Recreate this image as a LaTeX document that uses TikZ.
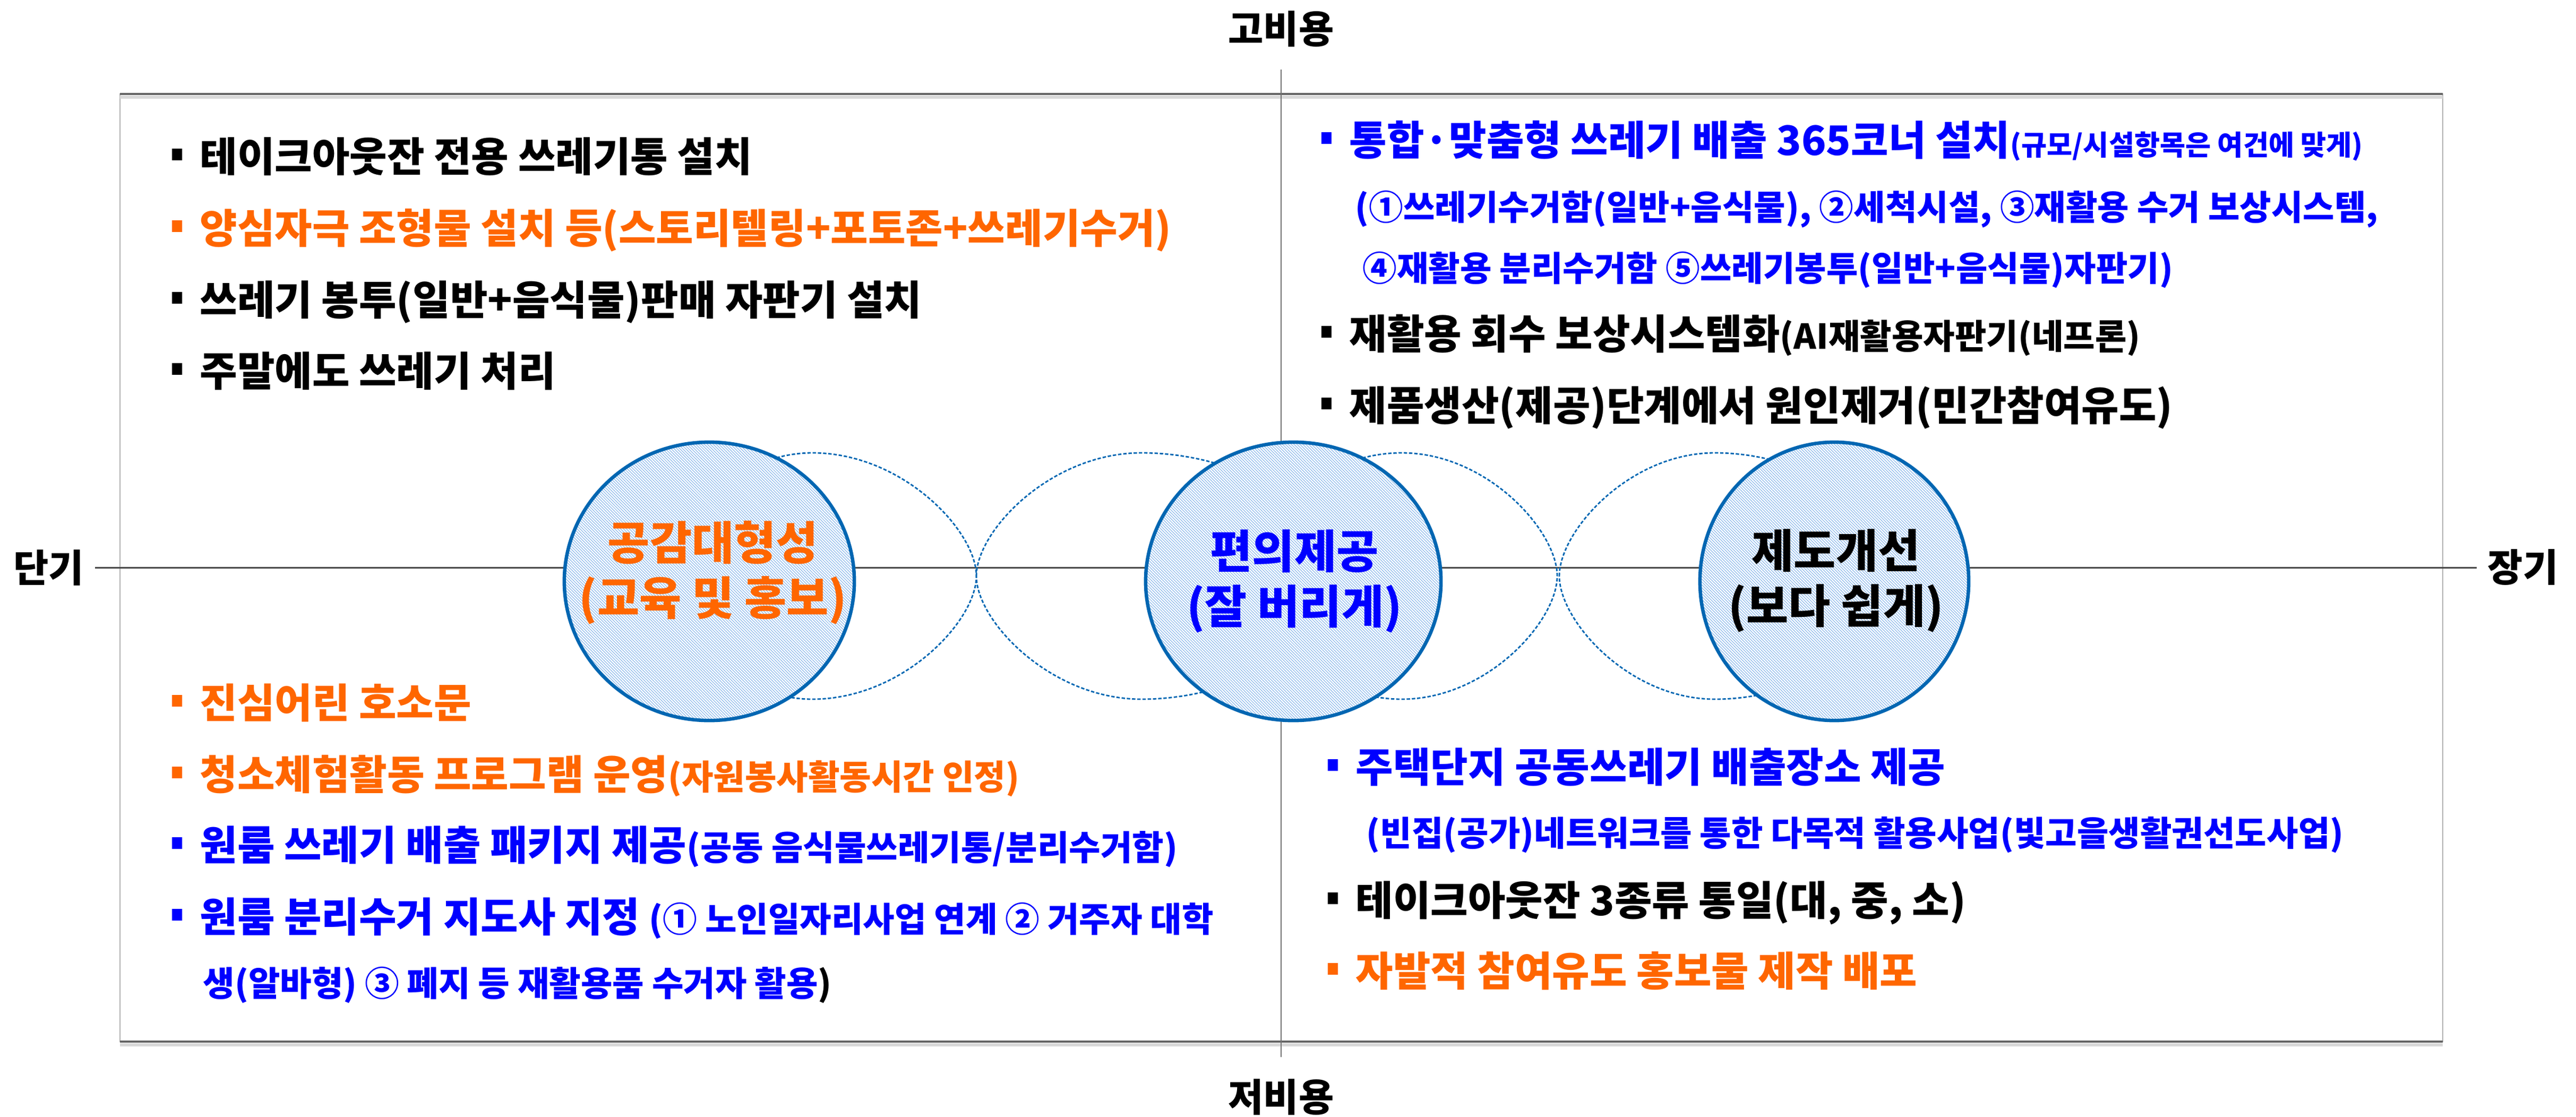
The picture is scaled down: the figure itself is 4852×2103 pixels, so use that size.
\documentclass[tikz,border=0pt]{standalone}
\usepackage{fontspec}
\setmainfont{Noto Sans CJK KR}
\usetikzlibrary{shapes.geometric,patterns.meta}
\definecolor{orng}{RGB}{255,102,0}
\definecolor{pblue}{RGB}{0,0,255}
\definecolor{ring}{RGB}{0,102,178}
\definecolor{hatch}{RGB}{140,185,235}
\definecolor{axisgray}{RGB}{70,70,70}
\newcommand{\bul}{\rule[5.9pt]{5.6pt}{6.3pt}\hspace{9.5pt}}
\newcommand{\smtxt}{\fontsize{18.4}{21}\selectfont}
\newcommand{\tinytxt}{\fontsize{14.9}{17}\selectfont}
\tikzset{
  bubble/.style={ellipse, draw=ring, line width=1.85pt, preaction={fill=white},
    pattern={Lines[angle=-45,distance=1.1pt,line width=0.35pt]}, pattern color=hatch},
  halo/.style={draw=ring, line width=0.8pt, dash pattern=on 1.8pt off 1pt},
  bubtext/.style={font=\fontsize{24.5}{29.5}\selectfont\bfseries, align=center},
  item/.style={anchor=base west, font=\fontsize{21.8}{25}\selectfont\bfseries},
  subitem/.style={anchor=base west, font=\smtxt\bfseries},
  axlabel/.style={font=\fontsize{20.5}{24}\selectfont\bfseries, outer sep=12pt},
  axis/.style={draw=axisgray, line width=0.85pt},
  frame/.style={draw=gray!60, line width=0.6pt}
}
\begin{document}
\begin{tikzpicture}[x=0.01cm,y=-0.01cm]
\tikzstyle{every node}+=[inner sep=0pt]
\useasboundingbox (0,0) rectangle (4852,2103);
\draw[frame] (226,177) rectangle (4601,1962);
\draw[gray!30, line width=1.5pt] (226,183) -- (4601,183);
\draw[gray!30, line width=1.5pt] (226,1968) -- (4601,1968);
\draw[black!60, line width=1.4pt] (226,177) -- (4601,177);
\draw[black!60, line width=1.4pt] (226,1962) -- (4601,1962);

\node[axlabel] (high) at (2413,55) {고비용};
\node[axlabel] (low) at (2413,2067) {저비용};
\node[axlabel, outer sep=6pt] (short) at (92,1069) {단기};
\node[axlabel, outer sep=6pt] (long) at (4752,1069) {장기};
\draw[axis] (short) -- (long);
\draw[axis, draw=black!55, line width=0.6pt] (high) -- (low);

\draw[halo] (1250,1085) .. controls (1250,1000) and (1376,853) .. (1530,853) .. controls (1700,853) and (1839,1000) .. (1839,1085) .. controls (1839,1170) and (1700,1317) .. (1530,1317) .. controls (1376,1317) and (1250,1170) .. cycle;
\draw[halo] (1839,1085) .. controls (1839,1000) and (1979,853) .. (2150,853) .. controls (2370,853) and (2550,1000) .. (2550,1085) .. controls (2550,1170) and (2370,1317) .. (2150,1317) .. controls (1979,1317) and (1839,1170) .. cycle;
\draw[halo] (2340,1085) .. controls (2340,1000) and (2475,853) .. (2640,853) .. controls (2801,853) and (2933,1000) .. (2933,1085) .. controls (2933,1170) and (2801,1317) .. (2640,1317) .. controls (2475,1317) and (2340,1170) .. cycle;
\draw[halo] (2937,1085) .. controls (2937,1000) and (3069,853) .. (3230,853) .. controls (3434,853) and (3600,1000) .. (3600,1085) .. controls (3600,1170) and (3434,1317) .. (3230,1317) .. controls (3069,1317) and (2937,1170) .. cycle;

\node[bubble, minimum width=5.46cm, minimum height=5.24cm] (empathy) at (1336,1095) {};
\node[bubble, minimum width=5.56cm, minimum height=5.24cm] (ease) at (2436,1095) {};
\node[bubble, minimum width=5.06cm, minimum height=5.24cm] (reform) at (3455,1095) {};
\node[bubtext, text=orng] (empathyt) at (1343,1079) {공감대형성\\(교육 및 홍보)};
\node[bubtext, text=pblue] (easet) at (2438,1095) {편의제공\\(잘 버리게)};
\node[bubtext] (reformt) at (3458,1094) {제도개선\\(보다 쉽게)};

\node[item] (tl1) at (323,323) {\bul 테이크아웃잔 전용 쓰레기통 설치};
\node[item, text=orng] (tl2) at (323,458) {\bul 양심자극 조형물 설치 등(스토리텔링+포토존+쓰레기수거)};
\node[item] (tl3) at (323,593) {\bul 쓰레기 봉투(일반+음식물)판매 자판기 설치};
\node[item] (tl4) at (323,727) {\bul 주말에도 쓰레기 처리};

\node[item, text=pblue] (tr1) at (2488,292) {\bul 통합·맞춤형 쓰레기 배출 365코너 설치{\tinytxt(규모/시설항목은 여건에 맞게)}};
\node[subitem, text=pblue] (tr2) at (2552,414) {(①쓰레기수거함(일반+음식물), ②세척시설, ③재활용 수거 보상시스템,};
\node[subitem, text=pblue] (tr3) at (2566,529) {④재활용 분리수거함 ⑤쓰레기봉투(일반+음식물)자판기)};
\node[item] (tr4) at (2488,657) {\bul 재활용 회수 보상시스템화{\smtxt(AI재활용자판기(네프론)}};
\node[item] (tr5) at (2488,792) {\bul 제품생산(제공)단계에서 원인제거(민간참여유도)};

\node[item, text=orng] (bl1) at (323,1352) {\bul 진심어린 호소문};
\node[item, text=orng] (bl2) at (323,1487) {\bul 청소체험활동 프로그램 운영{\smtxt(자원봉사활동시간 인정)}};
\node[item, text=pblue] (bl3) at (323,1620) {\bul 원룸 쓰레기 배출 패키지 제공{\smtxt(공동 음식물쓰레기통/분리수거함)}};
\node[item, text=pblue] (bl4) at (323,1755) {\bul 원룸 분리수거 지도사 지정 {\smtxt(① 노인일자리사업 연계 ② 거주자 대학}};
\node[subitem, text=pblue] (bl5) at (382,1876) {생(알바형) ③ 폐지 등 재활용품 수거자 활용\textcolor{black}{)}};

\node[item, text=pblue] (br1) at (2500,1473) {\bul 주택단지 공동쓰레기 배출장소 제공};
\node[subitem, text=pblue] (br2) at (2573,1593) {(빈집(공가)네트워크를 통한 다목적 활용사업(빛고을생활권선도사업)};
\node[item] (br3) at (2500,1724) {\bul 테이크아웃잔 3종류 통일(대, 중, 소)};
\node[item, text=orng] (br4) at (2500,1857) {\bul 자발적 참여유도 홍보물 제작 배포};
\end{tikzpicture}
\end{document}
